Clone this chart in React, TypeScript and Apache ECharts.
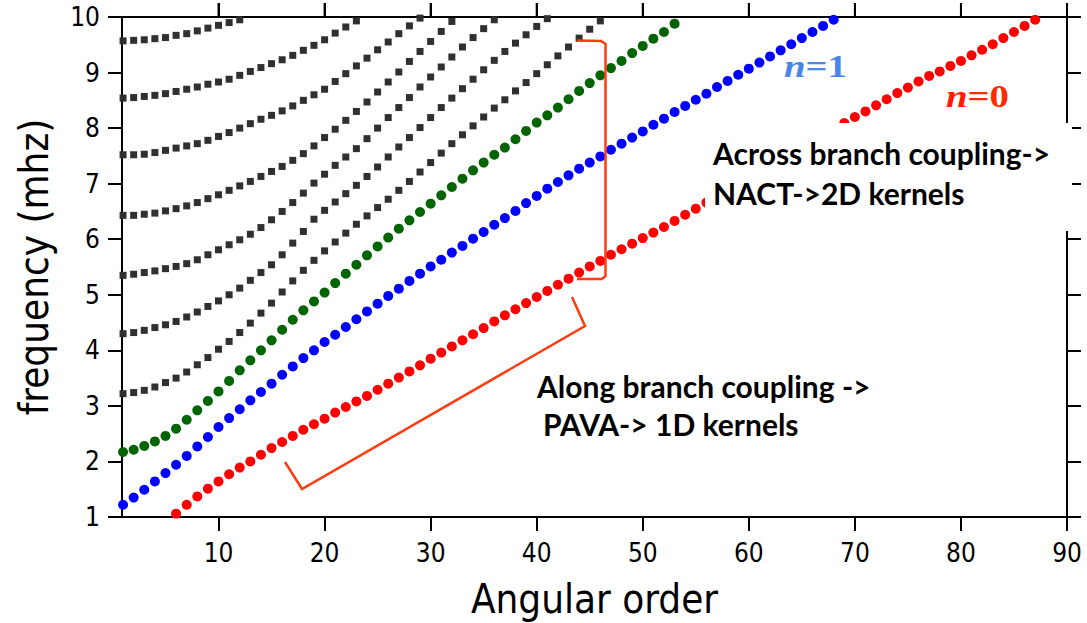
import React, { useEffect, useRef } from "react";
import * as echarts from "echarts";

// ---------- data ----------
const xTickValues = [10, 20, 30, 40, 50, 60, 70, 80, 90];
const xMin = 0.9;
const xMax = 90;
const yMin = 1;
const yMax = 10;

// angular order l starts at these values; one point per integer l
const overtone7Start = 1;
const overtone7 = [9.57, 9.58, 9.59, 9.61, 9.63, 9.67, 9.7, 9.75, 9.8, 9.85, 9.9, 9.95];
const overtone6Start = 1;
const overtone6 = [8.54, 8.55, 8.57, 8.59, 8.62, 8.66, 8.7, 8.74, 8.79, 8.83, 8.88, 8.95, 9.02, 9.09, 9.16, 9.23, 9.31, 9.4, 9.49, 9.59, 9.71, 9.82, 9.93];
const overtone5Start = 1;
const overtone5 = [7.52, 7.52, 7.53, 7.56, 7.6, 7.64, 7.68, 7.72, 7.78, 7.85, 7.92, 8.0, 8.08, 8.16, 8.23, 8.31, 8.4, 8.5, 8.6, 8.7, 8.84, 8.98, 9.12, 9.26, 9.41, 9.55, 9.7, 9.84, 9.98];
const overtone4Start = 1;
const overtone4 = [6.43, 6.43, 6.45, 6.47, 6.51, 6.55, 6.6, 6.66, 6.73, 6.8, 6.88, 6.96, 7.04, 7.13, 7.22, 7.31, 7.42, 7.54, 7.68, 7.83, 7.98, 8.14, 8.3, 8.47, 8.65, 8.83, 9.01, 9.2, 9.38, 9.56, 9.74, 9.92];
const overtone3Start = 1;
const overtone3 = [5.35, 5.37, 5.4, 5.43, 5.47, 5.51, 5.56, 5.63, 5.72, 5.81, 5.9, 5.99, 6.09, 6.21, 6.35, 6.5, 6.66, 6.83, 7.01, 7.17, 7.33, 7.48, 7.63, 7.81, 8.0, 8.19, 8.37, 8.55, 8.74, 8.92, 9.1, 9.28, 9.46, 9.63, 9.79, 9.95];
const overtone2Start = 1;
const overtone2 = [4.3, 4.32, 4.36, 4.41, 4.46, 4.52, 4.6, 4.69, 4.79, 4.89, 5.0, 5.12, 5.26, 5.4, 5.54, 5.72, 5.93, 6.14, 6.36, 6.52, 6.67, 6.82, 6.97, 7.13, 7.3, 7.48, 7.66, 7.83, 8.01, 8.19, 8.37, 8.54, 8.71, 8.88, 9.05, 9.22, 9.38, 9.53, 9.68, 9.83, 9.97];
const overtone1Start = 1;
const overtone1 = [3.22, 3.24, 3.28, 3.34, 3.42, 3.5, 3.61, 3.74, 3.87, 4.02, 4.16, 4.32, 4.49, 4.67, 4.85, 5.05, 5.25, 5.44, 5.62, 5.79, 5.95, 6.11, 6.27, 6.42, 6.57, 6.72, 6.88, 7.04, 7.21, 7.38, 7.55, 7.72, 7.88, 8.04, 8.2, 8.36, 8.51, 8.67, 8.82, 8.98, 9.14, 9.3, 9.46, 9.62, 9.78, 9.93];
const branchN2Start = 1;
const branchN2 = [2.17, 2.21, 2.28, 2.36, 2.46, 2.59, 2.75, 2.92, 3.09, 3.26, 3.45, 3.64, 3.82, 4.0, 4.18, 4.37, 4.55, 4.72, 4.88, 5.04, 5.21, 5.38, 5.54, 5.71, 5.87, 6.03, 6.19, 6.34, 6.49, 6.64, 6.79, 6.94, 7.09, 7.24, 7.38, 7.52, 7.65, 7.8, 7.95, 8.1, 8.23, 8.37, 8.52, 8.67, 8.81, 8.95, 9.08, 9.21, 9.35, 9.48, 9.61, 9.73, 9.88];
const branchN1Start = 1;
const branchN1 = [1.22, 1.35, 1.49, 1.64, 1.79, 1.94, 2.1, 2.27, 2.44, 2.62, 2.78, 2.94, 3.1, 3.25, 3.4, 3.56, 3.71, 3.86, 4.0, 4.15, 4.28, 4.42, 4.56, 4.7, 4.84, 4.98, 5.11, 5.25, 5.38, 5.51, 5.63, 5.76, 5.88, 6.01, 6.13, 6.26, 6.38, 6.51, 6.65, 6.78, 6.91, 7.03, 7.15, 7.27, 7.38, 7.49, 7.61, 7.72, 7.83, 7.94, 8.06, 8.17, 8.29, 8.4, 8.51, 8.62, 8.74, 8.85, 8.96, 9.07, 9.18, 9.29, 9.4, 9.51, 9.62, 9.73, 9.84, 9.95];
const branchN0Start = 6;
const branchN0 = [1.06, 1.22, 1.37, 1.51, 1.64, 1.77, 1.89, 2.0, 2.12, 2.24, 2.35, 2.46, 2.57, 2.67, 2.77, 2.88, 2.98, 3.08, 3.18, 3.29, 3.4, 3.51, 3.62, 3.73, 3.85, 3.96, 4.07, 4.18, 4.29, 4.4, 4.52, 4.63, 4.74, 4.85, 4.96, 5.07, 5.18, 5.29, 5.4, 5.51, 5.61, 5.72, 5.82, 5.92, 6.02, 6.12, 6.22, 6.33, 6.44, 6.55, 6.66, 6.77, 6.88, 6.99, 7.1, 7.21, 7.32, 7.43, 7.54, 7.65, 7.76, 7.87, 7.98, 8.09, 8.2, 8.3, 8.41, 8.52, 8.63, 8.73, 8.84, 8.94, 9.02, 9.12, 9.21, 9.31, 9.41, 9.51, 9.62, 9.73, 9.84, 9.95];

const xTitle = "Angular order";
const yTitle = "frequency (mhz)";

// ---------- styling ----------
const NARROW = "'Liberation Sans Narrow', 'DejaVu Sans Condensed', 'Arial Narrow', 'Liberation Sans', sans-serif";
const BOLD_SANS = "Lato, 'Open Sans', 'Noto Sans', sans-serif";
const SERIF = "'Liberation Serif', 'DejaVu Serif', serif";
const GRAY = "#303030";
const GREEN = "#006400";
const BLUE = "#0000ff";
const RED = "#ff0000";
const BRACKET = "#ff3b10";
const TICK_LEN = 14;

const toPoints = (start: number, vals: number[]) => vals.map((v, i) => [start + i, v]);

const dotSeries = (name: string, start: number, vals: number[], color: string, symbol: string, size: number) => ({
  name,
  type: "scatter",
  data: toPoints(start, vals),
  symbol,
  symbolSize: size,
  itemStyle: { color, opacity: 1 },
  clip: true,
  silent: true,
});

export default function App() {
  const ref = useRef<HTMLDivElement>(null);

  useEffect(() => {
    if (!ref.current) return;
    const chart = echarts.init(ref.current, null, { renderer: "svg" });

    const mkLine = () => ({ show: true, onZero: false, lineStyle: { color: "#000", width: 2 } });
    const mkTick = (extra: any = {}) => ({ show: true, inside: false, length: TICK_LEN, lineStyle: { color: "#000", width: 2 }, ...extra });

    const baseGraphics: any[] = [
      {
        type: "rect",
        z: 100,
        shape: { x: 705, y: 123, width: 367, height: 108 },
        style: { fill: "#ffffff" },
        silent: true,
      },
      {
        type: "text",
        z: 101,
        x: 713,
        y: 153,
        style: { text: "Across branch coupling->", fontSize: 30, fontWeight: "bold", fontFamily: BOLD_SANS, fill: "#000", verticalAlign: "middle" },
      },
      {
        type: "text",
        z: 101,
        x: 713,
        y: 193,
        style: { text: "NACT->2D kernels", fontSize: 30, fontWeight: "bold", fontFamily: BOLD_SANS, fill: "#000", verticalAlign: "middle" },
      },
      {
        type: "text",
        z: 101,
        x: 537,
        y: 386,
        style: { text: "Along branch coupling ->", fontSize: 30, fontWeight: "bold", fontFamily: BOLD_SANS, fill: "#000", verticalAlign: "middle" },
      },
      {
        type: "text",
        z: 101,
        x: 543,
        y: 424,
        style: { text: "PAVA-> 1D kernels", fontSize: 30, fontWeight: "bold", fontFamily: BOLD_SANS, fill: "#000", verticalAlign: "middle" },
      },
      {
        type: "text",
        z: 101,
        x: 784,
        y: 67,
        scaleX: 1.25,
        style: {
          text: "{i|n}{r|=1}",
          verticalAlign: "middle",
          rich: {
            i: { fontSize: 31, fontWeight: "bold", fontStyle: "italic", fontFamily: SERIF, fill: "#4a86e8" },
            r: { fontSize: 31, fontWeight: "bold", fontFamily: SERIF, fill: "#4a86e8" },
          },
        },
      },
      {
        type: "text",
        z: 101,
        x: 946,
        y: 97,
        scaleX: 1.25,
        style: {
          text: "{i|n}{r|=0}",
          verticalAlign: "middle",
          rich: {
            i: { fontSize: 31, fontWeight: "bold", fontStyle: "italic", fontFamily: SERIF, fill: "#ff1a00" },
            r: { fontSize: 31, fontWeight: "bold", fontFamily: SERIF, fill: "#ff2a00" },
          },
        },
      },
      {
        type: "polyline",
        z: 101,
        shape: { points: [[577, 40.5], [601, 41], [605.5, 44], [605.5, 276], [602, 279], [577, 279]] },
        style: { stroke: BRACKET, lineWidth: 2.5, fill: "none" },
      },
      {
        type: "polyline",
        z: 101,
        shape: { points: [[285, 462], [302, 489], [585, 326], [572, 297]] },
        style: { stroke: BRACKET, lineWidth: 2.5, fill: "none" },
      },
    ];

    const option: any = {
      animation: false,
      backgroundColor: "#ffffff",
      grid: { left: 122, right: 20, top: 17, bottom: 106, outerBoundsMode: "none" },
      xAxis: [
        {
          type: "value",
          position: "bottom",
          min: xMin,
          max: xMax,
          axisLine: mkLine(),
          axisTick: mkTick({ customValues: xTickValues }),
          axisLabel: { customValues: xTickValues, margin: 23, fontSize: 26, fontFamily: NARROW, color: "#000" },
          splitLine: { show: false },
          name: xTitle,
          nameLocation: "middle",
          nameGap: 62,
          nameTextStyle: { fontSize: 40, fontFamily: NARROW, color: "#000" },
        },
        {
          type: "value",
          position: "top",
          min: xMin,
          max: xMax,
          splitLine: { show: false },
          axisLine: { show: true, onZero: false, lineStyle: { color: "#000", width: 2 } },
          axisTick: { show: true, length: TICK_LEN, lineStyle: { color: "#000", width: 2 }, customValues: xTickValues },
          axisLabel: { show: false },
        },
      ],
      yAxis: [
        {
          type: "value",
          position: "left",
          min: yMin,
          max: yMax,
          interval: 1,
          axisLine: mkLine(),
          axisTick: mkTick(),
          axisLabel: { margin: 22, fontSize: 26, fontFamily: NARROW, color: "#000" },
          splitLine: { show: false },
          name: yTitle,
          nameLocation: "middle",
          nameRotate: 90,
          nameGap: 68,
          nameTextStyle: { fontSize: 40, fontFamily: NARROW, color: "#000" },
        },
        {
          type: "value",
          position: "right",
          min: yMin,
          max: yMax,
          interval: 1,
          axisLine: mkLine(),
          axisTick: mkTick(),
          axisLabel: { show: false },
          splitLine: { show: false },
        },
      ],
      series: [
        dotSeries("n7", overtone7Start, overtone7, GRAY, "rect", 7),
        dotSeries("n6", overtone6Start, overtone6, GRAY, "rect", 7),
        dotSeries("n5", overtone5Start, overtone5, GRAY, "rect", 7),
        dotSeries("n4", overtone4Start, overtone4, GRAY, "rect", 7),
        dotSeries("n3", overtone3Start, overtone3, GRAY, "rect", 7),
        dotSeries("n2g", overtone2Start, overtone2, GRAY, "rect", 7),
        dotSeries("n1g", overtone1Start, overtone1, GRAY, "rect", 7),
        dotSeries("n=2", branchN2Start, branchN2, GREEN, "circle", 10),
        dotSeries("n=1", branchN1Start, branchN1, BLUE, "circle", 10),
        dotSeries("n=0", branchN0Start, branchN0, RED, "circle", 10),
      ],
      graphic: baseGraphics,
    };

    chart.setOption(option);

    // extra outward tick marks on the top frame edge, placed through the x axis scale
    const topY = Number(chart.convertToPixel({ yAxisIndex: 0 }, yMax));
    const topTicks = xTickValues
      .map((v) => Number(chart.convertToPixel({ xAxisIndex: 0 }, v)))
      .filter((px) => isFinite(px) && isFinite(topY))
      .map((px) => ({
        type: "line",
        z: 200,
        shape: { x1: px, y1: topY - TICK_LEN, x2: px, y2: topY },
        style: { stroke: "#000", lineWidth: 2 },
        silent: true,
      }));
    if (topTicks.length) chart.setOption({ graphic: [...baseGraphics, ...topTicks] });

    return () => chart.dispose();
  }, []);

  return (
    <div
      ref={ref}
      style={{ position: "fixed", left: 0, top: 0, width: 1087, height: 623, background: "#fff" }}
    />
  );
}
